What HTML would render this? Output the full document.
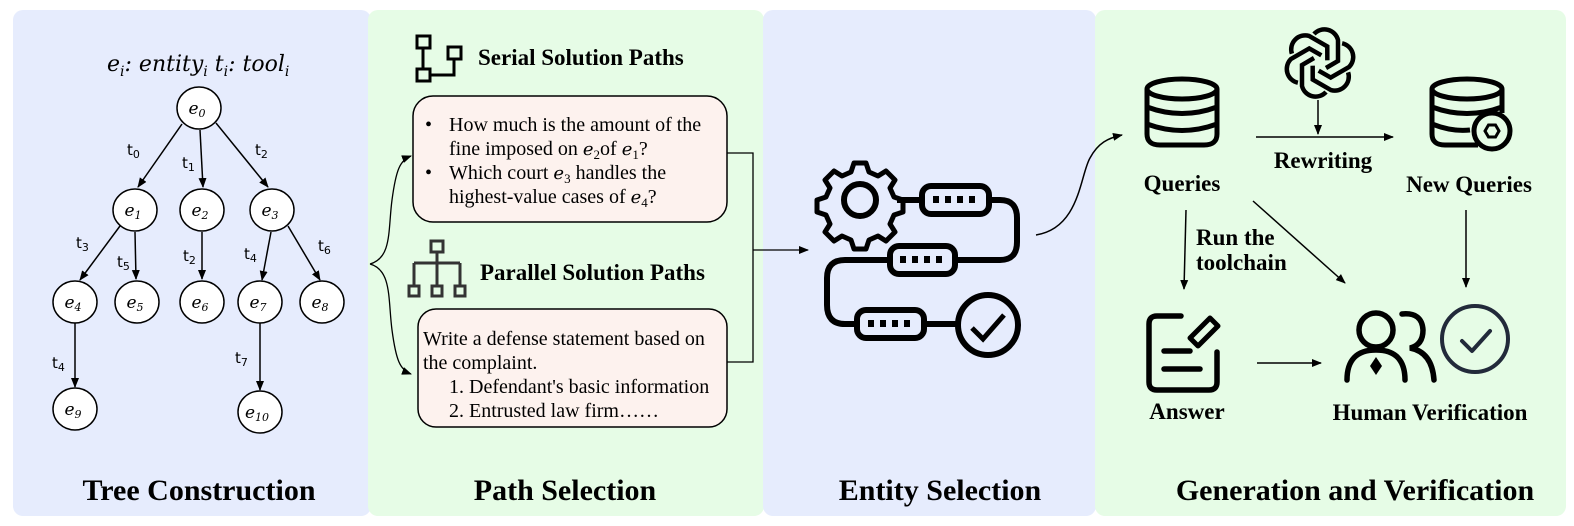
<!DOCTYPE html>
<html><head><meta charset="utf-8"><style>
html,body{margin:0;padding:0;background:#fff}
svg{display:block}
.s{font-family:"Liberation Serif",serif}
.b{font-family:"Liberation Serif",serif;font-weight:bold}
.m{font-family:"DejaVu Serif","Liberation Serif",serif;font-style:italic}
.t{font-family:"DejaVu Sans","Liberation Sans",sans-serif}
</style></head><body>
<svg width="1574" height="526" viewBox="0 0 1574 526" xmlns="http://www.w3.org/2000/svg">
<defs>
<marker id="a" markerWidth="10" markerHeight="10" refX="9" refY="5" orient="auto" markerUnits="userSpaceOnUse"><path d="M0,1 L10,5 L0,9 Z" fill="#000"/></marker>
</defs>
<rect x="13" y="10" width="358" height="506" rx="10" fill="#e6ecfd"/>
<rect x="368" y="10" width="396" height="506" rx="10" fill="#e6fce6"/>
<rect x="763" y="10" width="333" height="506" rx="10" fill="#e6ecfd"/>
<rect x="1095" y="10" width="471" height="506" rx="10" fill="#e6fce6"/>

<!-- Tree -->
<text x="107" y="71" class="m" font-size="22">e<tspan font-size="14" dy="5">i</tspan><tspan dy="-5">: entity</tspan><tspan font-size="14" dy="5">i</tspan><tspan dy="-5">   t</tspan><tspan font-size="14" dy="5">i</tspan><tspan dy="-5">: tool</tspan><tspan font-size="14" dy="5">i</tspan></text>
<g stroke="#000" stroke-width="1.5" fill="none" marker-end="url(#a)">
<line x1="182" y1="124" x2="138" y2="187"/>
<line x1="200" y1="130" x2="203" y2="187"/>
<line x1="216" y1="123" x2="268" y2="187"/>
<line x1="120" y1="226" x2="80" y2="280"/>
<line x1="135" y1="232" x2="136" y2="279"/>
<line x1="202" y1="232" x2="202" y2="279"/>
<line x1="271" y1="232" x2="262" y2="280"/>
<line x1="288" y1="226" x2="320" y2="280"/>
<line x1="75" y1="323" x2="75" y2="387"/>
<line x1="260" y1="323" x2="260" y2="390"/>
</g>
<g stroke="#000" stroke-width="1.5" fill="#fff">
<ellipse cx="199" cy="108" rx="22" ry="21"/>
<ellipse cx="135" cy="210" rx="22" ry="21"/><ellipse cx="202" cy="210" rx="22" ry="21"/><ellipse cx="272" cy="210" rx="22" ry="21"/>
<ellipse cx="75" cy="302" rx="22" ry="21"/><ellipse cx="137" cy="302" rx="22" ry="21"/><ellipse cx="202" cy="302" rx="22" ry="21"/><ellipse cx="260" cy="302" rx="22" ry="21"/><ellipse cx="322" cy="302" rx="22" ry="21"/>
<ellipse cx="75" cy="409" rx="22" ry="21"/><ellipse cx="260" cy="412" rx="22" ry="21"/>
</g>
<g class="m" font-size="17" text-anchor="middle">
<text x="197" y="114">e<tspan font-size="11" dy="3">0</tspan></text>
<text x="133" y="216">e<tspan font-size="11" dy="3">1</tspan></text>
<text x="200" y="216">e<tspan font-size="11" dy="3">2</tspan></text>
<text x="270" y="216">e<tspan font-size="11" dy="3">3</tspan></text>
<text x="73" y="308">e<tspan font-size="11" dy="3">4</tspan></text>
<text x="135" y="308">e<tspan font-size="11" dy="3">5</tspan></text>
<text x="200" y="308">e<tspan font-size="11" dy="3">6</tspan></text>
<text x="258" y="308">e<tspan font-size="11" dy="3">7</tspan></text>
<text x="320" y="308">e<tspan font-size="11" dy="3">8</tspan></text>
<text x="73" y="415">e<tspan font-size="11" dy="3">9</tspan></text>
<text x="257" y="418">e<tspan font-size="11" dy="3">10</tspan></text>
</g>
<g class="t" font-size="15">
<text x="127" y="155">t<tspan font-size="11" dy="3">0</tspan></text>
<text x="182" y="168">t<tspan font-size="11" dy="3">1</tspan></text>
<text x="255" y="155">t<tspan font-size="11" dy="3">2</tspan></text>
<text x="76" y="248">t<tspan font-size="11" dy="3">3</tspan></text>
<text x="117" y="267">t<tspan font-size="11" dy="3">5</tspan></text>
<text x="183" y="261">t<tspan font-size="11" dy="3">2</tspan></text>
<text x="244" y="259">t<tspan font-size="11" dy="3">4</tspan></text>
<text x="318" y="251">t<tspan font-size="11" dy="3">6</tspan></text>
<text x="52" y="368">t<tspan font-size="11" dy="3">4</tspan></text>
<text x="235" y="363">t<tspan font-size="11" dy="3">7</tspan></text>
</g>
<text x="199" y="500" class="b" font-size="30" text-anchor="middle">Tree Construction</text>

<!-- Path selection -->
<g stroke="#000" stroke-width="3" fill="none">
<rect x="417" y="36" width="13" height="12"/><rect x="417" y="69" width="13" height="12"/><rect x="448" y="47" width="13" height="12"/>
<line x1="423" y1="48" x2="423" y2="69"/><path d="M430,75 H454 V59"/>
</g>
<g stroke="#333" stroke-width="3" fill="none">
<rect x="431" y="241" width="12" height="11"/><path d="M437,252 V263 M414,263 H460 M414,263 V286 M437,263 V286 M460,263 V286"/>
<rect x="409" y="286" width="10" height="10"/><rect x="432" y="286" width="10" height="10"/><rect x="455" y="286" width="10" height="10"/>
</g>
<text x="478" y="65" class="b" font-size="23">Serial Solution Paths</text>
<text x="480" y="280" class="b" font-size="23">Parallel Solution Paths</text>
<rect x="413" y="96" width="314" height="126" rx="20" fill="#fdf2ee" stroke="#000" stroke-width="1.5"/>
<rect x="418" y="309" width="309" height="118" rx="18" fill="#fdf2ee" stroke="#000" stroke-width="1.5"/>
<g class="s" font-size="20">
<text x="425" y="131">•</text><text x="449" y="131">How much is the amount of the</text>
<text x="449" y="155">fine imposed on <tspan class="m" font-size="18">e</tspan><tspan font-size="13" dy="4">2</tspan><tspan dy="-4">of </tspan><tspan class="m" font-size="18">e</tspan><tspan font-size="13" dy="4">1</tspan><tspan dy="-4">?</tspan></text>
<text x="425" y="179">•</text><text x="449" y="179">Which court <tspan class="m" font-size="18">e</tspan><tspan font-size="13" dy="4">3</tspan><tspan dy="-4"> handles the</tspan></text>
<text x="449" y="203">highest-value cases of <tspan class="m" font-size="18">e</tspan><tspan font-size="13" dy="4">4</tspan><tspan dy="-4">?</tspan></text>
<text x="423" y="345">Write a defense statement based on</text>
<text x="423" y="369">the complaint.</text>
<text x="449" y="393">1. Defendant's basic information</text>
<text x="449" y="417">2. Entrusted law firm……</text>
</g>
<g stroke="#000" stroke-width="1.3" fill="none">
<path d="M727,153 H753 V362 H727"/>
<line x1="753" y1="250" x2="808" y2="250" marker-end="url(#a)"/>
<path d="M370,264 C392,258 388,230 392,200 C396,170 400,160 411,156" marker-end="url(#a)"/>
<path d="M370,264 C392,270 388,300 392,330 C396,360 400,370 411,374" marker-end="url(#a)"/>
</g>
<text x="565" y="500" class="b" font-size="30" text-anchor="middle">Path Selection</text>

<!-- Entity selection -->
<g stroke="#000" stroke-width="6" fill="none">
<path d="M860,163 l6,0 l3,9 l9,4 l8,-5 l9,9 l-5,8 l4,9 l9,3 l0,12 l-9,3 l-4,9 l5,8 l-9,9 l-8,-5 l-9,4 l-3,9 l-12,0 l-3,-9 l-9,-4 l-8,5 l-9,-9 l5,-8 l-4,-9 l-9,-3 l0,-12 l9,-3 l4,-9 l-5,-8 l9,-9 l8,5 l9,-4 l3,-9 Z" stroke-linejoin="round" stroke-width="5"/>
<circle cx="860" cy="200" r="16"/>
<line x1="897" y1="200" x2="922" y2="200"/>
<rect x="922" y="186" width="67" height="28" rx="9"/>
<path d="M989,200 H1000 Q1017,200 1017,218 V242 Q1017,260 1000,260 H955"/>
<rect x="890" y="246" width="65" height="28" rx="9"/>
<path d="M890,260 H845 Q827,260 827,278 V305 Q827,324 845,324 H857"/>
<rect x="857" y="310" width="67" height="28" rx="9"/>
<line x1="924" y1="324" x2="958" y2="324"/>
<circle cx="988" cy="325" r="30"/>
<path d="M972,328 L983,339 L1004,315" stroke-width="5"/>
</g>
<g fill="#000">
<rect x="933" y="196" width="6" height="7"/><rect x="945" y="196" width="6" height="7"/><rect x="957" y="196" width="6" height="7"/><rect x="969" y="196" width="6" height="7"/>
<rect x="900" y="256" width="6" height="7"/><rect x="912" y="256" width="6" height="7"/><rect x="924" y="256" width="6" height="7"/><rect x="936" y="256" width="6" height="7"/>
<rect x="868" y="320" width="6" height="7"/><rect x="880" y="320" width="6" height="7"/><rect x="892" y="320" width="6" height="7"/><rect x="904" y="320" width="6" height="7"/>
</g>
<path d="M1036,235 C1080,228 1080,175 1090,158 C1098,143 1108,138 1122,135" stroke="#000" stroke-width="1.5" fill="none" marker-end="url(#a)"/>
<text x="940" y="500" class="b" font-size="30" text-anchor="middle">Entity Selection</text>

<!-- Generation -->
<g stroke="#000" stroke-width="5" fill="none">
<ellipse cx="1182" cy="89" rx="35" ry="10"/>
<path d="M1147,89 V134 Q1147,145 1160,145 H1204 Q1217,145 1217,134 V89"/>
<path d="M1147,107 Q1182,120 1217,107 M1147,124 Q1182,137 1217,124"/>
<ellipse cx="1467" cy="89" rx="35" ry="10"/>
<path d="M1432,89 V134 Q1432,145 1445,145 H1478 M1502,89 V113"/>
<path d="M1432,107 Q1467,120 1502,107 M1432,124 Q1452,132 1470,130"/>
<circle cx="1492" cy="131" r="18"/>
</g>
<path d="M1485,131 l3.5,-6 h7 l3.5,6 l-3.5,6 h-7 Z" stroke="#000" stroke-width="3" fill="none"/>
<g stroke="#000" stroke-width="4.5" fill="none" transform="translate(1320,63)">
<g id="p"><path d="M-6,-29 a14,14 0 0 1 24,6 v21 l-12,7"/></g>
<use href="#p" transform="rotate(60)"/><use href="#p" transform="rotate(120)"/><use href="#p" transform="rotate(180)"/><use href="#p" transform="rotate(240)"/><use href="#p" transform="rotate(300)"/>
</g>
<g stroke="#000" stroke-width="1.5" fill="none" marker-end="url(#a)">
<line x1="1256" y1="137" x2="1393" y2="137"/>
<line x1="1318" y1="100" x2="1318" y2="134"/>
<line x1="1186" y1="210" x2="1184" y2="289"/>
<line x1="1253" y1="201" x2="1345" y2="283"/>
<line x1="1466" y1="210" x2="1466" y2="287"/>
<line x1="1257" y1="363" x2="1321" y2="363"/>
</g>
<g class="b" font-size="23">
<text x="1182" y="191" text-anchor="middle">Queries</text>
<text x="1323" y="168" text-anchor="middle">Rewriting</text>
<text x="1469" y="192" text-anchor="middle">New Queries</text>
<text x="1196" y="245">Run the</text>
<text x="1196" y="270">toolchain</text>
<text x="1187" y="419" text-anchor="middle">Answer</text>
<text x="1430" y="420" text-anchor="middle">Human Verification</text>
</g>
<g stroke="#000" stroke-width="5.5" fill="none" stroke-linecap="round">
<path d="M1181,316 H1157 Q1149,316 1149,324 V382 Q1149,390 1157,390 H1209 Q1217,390 1217,382 V352"/>
<line x1="1164" y1="351" x2="1190" y2="351"/><line x1="1164" y1="369" x2="1200" y2="369"/>
<path d="M1190,338 L1210,318 L1218,326 L1198,346 Z" stroke-width="5" stroke-linejoin="round"/>
<circle cx="1376" cy="330" r="17"/>
<path d="M1347,380 Q1347,350 1376,350 Q1405,350 1405,380"/>
<path d="M1402,314 Q1422,312 1423,330 Q1423,345 1410,348 Q1432,352 1434,380"/>
</g>
<path d="M1376,357 l6,9 l-6,9 l-6,-9 Z" fill="#000"/>
<circle cx="1475" cy="339" r="33" stroke="#222a3a" stroke-width="4" fill="none"/>
<path d="M1462,341 L1472,351 L1490,331" stroke="#222a3a" stroke-width="4" fill="none" stroke-linecap="round" stroke-linejoin="round"/>
<text x="1355" y="500" class="b" font-size="30" text-anchor="middle">Generation and Verification</text>
</svg>
</body></html>
